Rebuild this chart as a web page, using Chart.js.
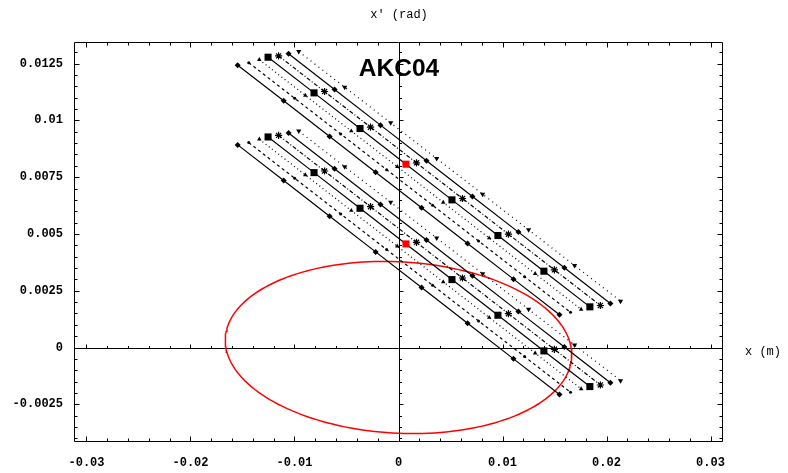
<!DOCTYPE html>
<html>
<head>
<meta charset="utf-8">
<script src="https://cdn.jsdelivr.net/npm/chart.js@4.4.1/dist/chart.umd.min.js"></script>
<style>
  html, body { margin: 0; padding: 0; background: #fff; }
  #wrap { width: 788px; height: 473px; position: relative; }
</style>
</head>
<body>
<div id="wrap"><canvas id="phase"></canvas></div>
<script>
// x (m) of the 8 sample points on each of the 7 trajectories (same for both bands)
const trackX = [
  [-0.01546, -0.01104, -0.00662, -0.00220, 0.00222, 0.00664, 0.01106, 0.01548],
  [-0.01440, -0.00998, -0.00556, -0.00114, 0.00328, 0.00770, 0.01212, 0.01654],
  [-0.01338, -0.00896, -0.00454, -0.00012, 0.00430, 0.00872, 0.01314, 0.01756],
  [-0.01254, -0.00812, -0.00370, 0.00072, 0.00514, 0.00956, 0.01398, 0.01840],
  [-0.01153, -0.00711, -0.00269, 0.00173, 0.00615, 0.01057, 0.01499, 0.01941],
  [-0.01057, -0.00615, -0.00173, 0.00269, 0.00711, 0.01153, 0.01595, 0.02037],
  [-0.00959, -0.00517, -0.00075, 0.00367, 0.00809, 0.01251, 0.01693, 0.02135]
];

// x' (rad), upper band
const upperXp = [
  [0.01243, 0.01086, 0.00929, 0.00772, 0.00615, 0.00458, 0.00301, 0.00144],
  [0.01254, 0.01097, 0.00940, 0.00783, 0.00626, 0.00469, 0.00312, 0.00155],
  [0.01267, 0.01110, 0.00953, 0.00796, 0.00639, 0.00482, 0.00325, 0.00168],
  [0.01278, 0.01121, 0.00964, 0.00807, 0.00650, 0.00493, 0.00336, 0.00179],
  [0.01284, 0.01127, 0.00970, 0.00813, 0.00656, 0.00499, 0.00342, 0.00185],
  [0.01293, 0.01136, 0.00979, 0.00822, 0.00665, 0.00508, 0.00351, 0.00194],
  [0.01303, 0.01146, 0.00989, 0.00832, 0.00675, 0.00518, 0.00361, 0.00204]
];

// x' (rad), lower band
const lowerXp = [
  [0.00892, 0.00735, 0.00578, 0.00421, 0.00264, 0.00107, -0.00050, -0.00207],
  [0.00902, 0.00745, 0.00588, 0.00431, 0.00274, 0.00117, -0.00040, -0.00197],
  [0.00917, 0.00760, 0.00603, 0.00446, 0.00289, 0.00132, -0.00025, -0.00182],
  [0.00927, 0.00770, 0.00613, 0.00456, 0.00299, 0.00142, -0.00015, -0.00172],
  [0.00934, 0.00777, 0.00620, 0.00463, 0.00306, 0.00149, -0.00008, -0.00165],
  [0.00944, 0.00787, 0.00630, 0.00473, 0.00316, 0.00159, 0.00002, -0.00155],
  [0.00953, 0.00796, 0.00639, 0.00482, 0.00325, 0.00168, 0.00011, -0.00146]
];

// acceptance ellipse (Twiss)
const emittance = 6.29e-5;   // m rad
const betaX = 4.41;          // m
const alphaX = 0.084;

// frame ticks
const xMajor = [-0.03, -0.02, -0.01, 0, 0.01, 0.02, 0.03];
const xMajorLabels = ['-0.03', '-0.02', '-0.01', '0', '0.01', '0.02', '0.03'];
const yMajor = [-0.0025, 0, 0.0025, 0.005, 0.0075, 0.01, 0.0125];
const yMajorLabels = ['-0.0025', '0', '0.0025', '0.005', '0.0075', '0.01', '0.0125'];

// per-trajectory look
const markerShape = ['rectRot', 'circle', 'triangle', 'rect', 'star', 'rectRot', 'triangle'];
const markerSize = [3, 1.5, 2.6, 5, 3.6, 3, 3];
const markerTurn = [0, 0, 0, 0, 0, 0, 180];
const lineDash = [[], [3, 3], [1, 3], [], [4, 2, 1, 2], [], [1, 4]];
const hitPoint = 3;  // sample drawn in red on the square-marked track

const datasets = [];
[upperXp, lowerXp].forEach(band => {
  band.forEach((xp, i) => {
    const red = i === 3;
    datasets.push({
      data: xp.map((v, k) => ({ x: trackX[i][k], y: v })),
      showLine: true,
      borderColor: '#000',
      borderWidth: 1.2,
      borderDash: lineDash[i],
      pointStyle: markerShape[i],
      pointRadius: markerSize[i],
      pointRotation: markerTurn[i],
      pointBorderWidth: markerShape[i] === 'star' ? 1.2 : 0,
      pointBackgroundColor: xp.map((_, k) => (red && k === hitPoint) ? '#ff0000' : '#000'),
      pointBorderColor: xp.map((_, k) => (red && k === hitPoint) ? '#ff0000' : '#000')
    });
  });
});

const ellipse = [];
for (let k = 0; k <= 180; k++) {
  const t = k / 180 * 2 * Math.PI;
  ellipse.push({
    x: Math.sqrt(emittance * betaX) * Math.cos(t),
    y: -Math.sqrt(emittance / betaX) * (alphaX * Math.cos(t) + Math.sin(t))
  });
}
datasets.push({
  data: ellipse,
  showLine: true,
  borderColor: '#ff0000',
  borderWidth: 1.5,
  pointRadius: 0,
  tension: 0
});

// frame, axes, inward ticks and labels
const framePlugin = {
  id: 'framePlugin',
  beforeDatasetsDraw(chart) {
    const { ctx, chartArea: a, scales: { x, y } } = chart;
    const x0 = Math.round(x.getPixelForValue(0)) + 0.5;
    const y0 = Math.round(y.getPixelForValue(0)) + 0.5;
    ctx.save();
    ctx.strokeStyle = '#000';
    ctx.lineWidth = 1;
    ctx.beginPath();
    ctx.moveTo(a.left, y0); ctx.lineTo(a.right, y0);
    ctx.moveTo(x0, a.top); ctx.lineTo(x0, a.bottom);
    // small ticks along the axes
    for (let v = -0.0040; v <= 0.0135; v += 0.0005) {
      const py = Math.round(y.getPixelForValue(v)) + 0.5;
      const major = Math.abs(v / 0.0025 - Math.round(v / 0.0025)) < 1e-6;
      ctx.moveTo(x0, py); ctx.lineTo(x0 + (major ? 4 : 2.5), py);
    }
    for (let v = -0.030; v <= 0.0305; v += 0.002) {
      const px = Math.round(x.getPixelForValue(v)) + 0.5;
      const major = Math.abs(v / 0.01 - Math.round(v / 0.01)) < 1e-6;
      ctx.moveTo(px, y0); ctx.lineTo(px, y0 - (major ? 4 : 2.5));
    }
    ctx.stroke();
    ctx.restore();
  },
  afterDraw(chart) {
    const { ctx, chartArea: a, scales: { x, y } } = chart;
    const L = Math.round(a.left) + 0.5, R = Math.round(a.right) - 0.5;
    const T = Math.round(a.top) + 0.5, B = Math.round(a.bottom) - 0.5;
    ctx.save();
    ctx.strokeStyle = '#000';
    ctx.lineWidth = 1;
    ctx.beginPath();
    ctx.rect(L, T, R - L, B - T);
    for (let v = -0.030; v <= 0.0305; v += 0.002) {
      const px = Math.round(x.getPixelForValue(v)) + 0.5;
      const major = Math.abs(v / 0.01 - Math.round(v / 0.01)) < 1e-6;
      const len = major ? 5 : 3;
      ctx.moveTo(px, B); ctx.lineTo(px, B - len);
      ctx.moveTo(px, T); ctx.lineTo(px, T + len);
    }
    for (let v = -0.0040; v <= 0.0135; v += 0.0005) {
      const py = Math.round(y.getPixelForValue(v)) + 0.5;
      const major = Math.abs(v / 0.0025 - Math.round(v / 0.0025)) < 1e-6;
      const len = major ? 5 : 3;
      ctx.moveTo(L, py); ctx.lineTo(L + len, py);
      ctx.moveTo(R, py); ctx.lineTo(R - len, py);
    }
    ctx.stroke();

    ctx.fillStyle = '#000';
    ctx.font = 'bold 12px "Liberation Mono"';
    ctx.textAlign = 'center';
    ctx.textBaseline = 'middle';
    xMajor.forEach((v, i) => ctx.fillText(xMajorLabels[i], x.getPixelForValue(v), 463));
    ctx.textAlign = 'right';
    yMajor.forEach((v, i) => ctx.fillText(yMajorLabels[i], 63, y.getPixelForValue(v)));

    ctx.font = '12px "Liberation Mono"';
    ctx.textAlign = 'center';
    ctx.fillText("x' (rad)", 399, 15);
    ctx.textAlign = 'left';
    ctx.fillText('x (m)', 745, 352);

    ctx.font = 'bold 24.5px "Liberation Sans"';
    ctx.textAlign = 'center';
    ctx.textBaseline = 'alphabetic';
    ctx.fillText('AKC04', 399, 76);
    ctx.restore();
  }
};

new Chart(document.getElementById('phase'), {
  type: 'scatter',
  data: { datasets },
  options: {
    responsive: true,
    maintainAspectRatio: false,
    animation: false,
    layout: { padding: { left: 74, right: 65, top: 42, bottom: 31 } },
    plugins: { legend: { display: false }, tooltip: { enabled: false } },
    scales: {
      x: { type: 'linear', min: -0.0312, max: 0.0312, display: false },
      y: { type: 'linear', min: -0.00416, max: 0.01345, display: false }
    }
  },
  plugins: [framePlugin]
});
</script>
</body>
</html>
